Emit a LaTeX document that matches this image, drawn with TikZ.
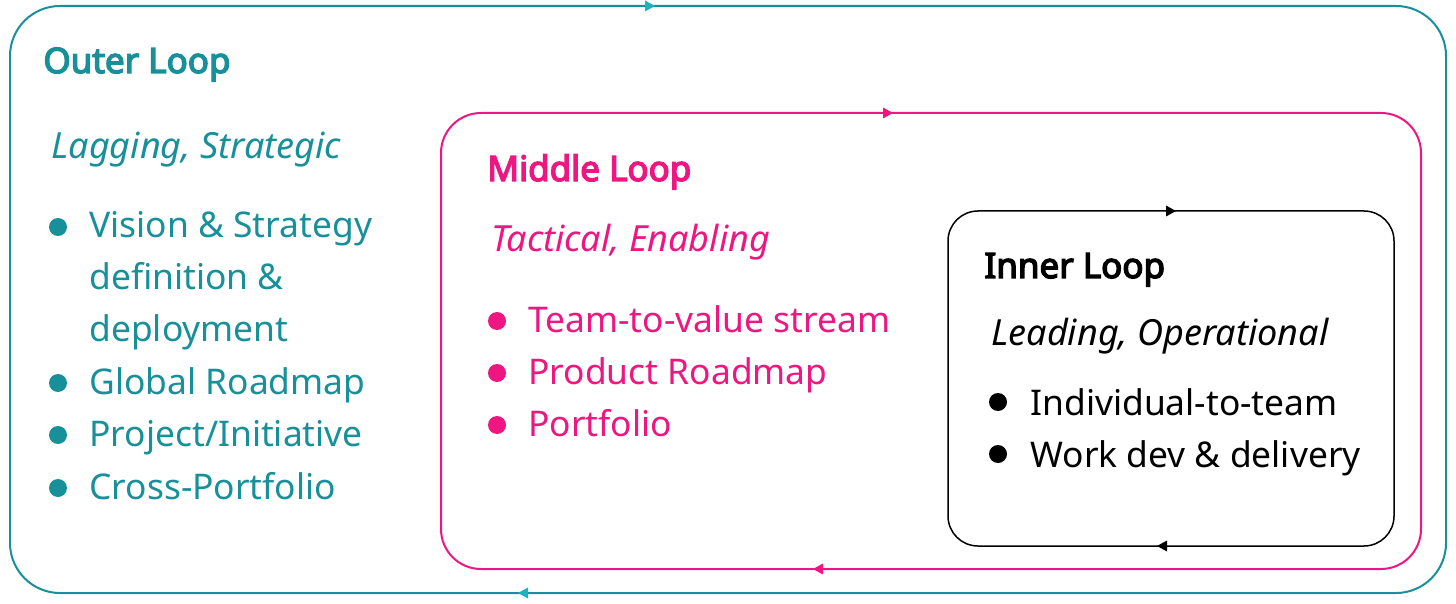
\documentclass[tikz,border=0pt]{standalone}
\usepackage{fontspec}
\setmainfont{Noto Sans}
\newfontface\ttlfont{Noto Sans}[FakeBold=4]
\definecolor{tealtxt}{HTML}{17909A}
\definecolor{tealarr}{HTML}{1DB3BE}
\definecolor{pinktxt}{HTML}{EE1681}
\begin{document}
\begin{tikzpicture}[x=0.5pt,y=-0.5pt,
  loopbox/.style={draw, line width=1pt, rounded corners=#1, inner sep=0pt},
  ttl/.style={anchor=base west, inner sep=0pt, font=\fontsize{17.5}{20}\ttlfont},
  sub/.style={anchor=base west, inner sep=0pt, font=\fontsize{18}{20}\selectfont\itshape},
  item/.style={anchor=base west, inner sep=0pt, font=\fontsize{17.7}{20}\selectfont},
  dot/.style={circle, fill, inner sep=0pt, minimum size=9pt}]
\useasboundingbox (0,0) rectangle (1456,604);
% boxes
\node[loopbox=25pt, draw=tealtxt, minimum width=718pt, minimum height=293.5pt] (outer) at (728,299.5) {};
\node[loopbox=20pt, draw=pinktxt, minimum width=490pt, minimum height=228pt] (middle) at (931,341) {};
\node[loopbox=15pt, draw=black, line width=0.75pt, minimum width=223pt, minimum height=167.5pt] (inner) at (1171,378.5) {};
% arrowheads
\fill[tealarr] (645,0.5) -- (655,6) -- (645,11.5) -- cycle;
\fill[tealarr] (528,587.5) -- (518,593) -- (528,598.5) -- cycle;
\fill[pinktxt] (883,107.5) -- (893,113) -- (883,118.5) -- cycle;
\fill[pinktxt] (823,563.5) -- (813,569) -- (823,574.5) -- cycle;
\fill[black] (1166,205.5) -- (1176,211) -- (1166,216.5) -- cycle;
\fill[black] (1167,540.5) -- (1157,546) -- (1167,551.5) -- cycle;
% outer text
\begin{scope}[tealtxt]
\node[ttl] (ot) at (43,73) {Outer Loop};
\node[sub] (os) at (51,159) {Lagging, Strategic};
\node[dot] (ob1) at (58,227) {};
\node[item] (oi1) at (89,238) {Vision \& Strategy};
\node[item] (oi1b) at (89,290) {definition \&};
\node[item] (oi1c) at (89,342) {deployment};
\node[dot] (ob2) at (58,383) {};
\node[item] (oi2) at (89,394) {Global Roadmap};
\node[dot] (ob3) at (58,435) {};
\node[item] (oi3) at (89,446) {Project/Initiative};
\node[dot] (ob4) at (58,488) {};
\node[item] (oi4) at (89,499) {Cross-Portfolio};
\end{scope}
% middle text
\begin{scope}[pinktxt]
\node[ttl] (mt) at (487,181) {Middle Loop};
\node[sub] (ms) at (491,252) {Tactical, Enabling};
\node[dot] (mb1) at (497,321) {};
\node[item] (mi1) at (528,332) {Team-to-value stream};
\node[dot] (mb2) at (497,373) {};
\node[item] (mi2) at (528,384) {Product Roadmap};
\node[dot] (mb3) at (497,425) {};
\node[item] (mi3) at (528,436) {Portfolio};
\end{scope}
% inner text
\node[ttl] (it) at (984,278) {Inner Loop};
\node[sub] (is) at (991,345) {Leading, Operational};
\node[dot] (ib1) at (998,402) {};
\node[item] (ii1) at (1030,415) {Individual-to-team};
\node[dot] (ib2) at (998,454) {};
\node[item] (ii2) at (1030,467) {Work dev \& delivery};
\end{tikzpicture}
\end{document}
